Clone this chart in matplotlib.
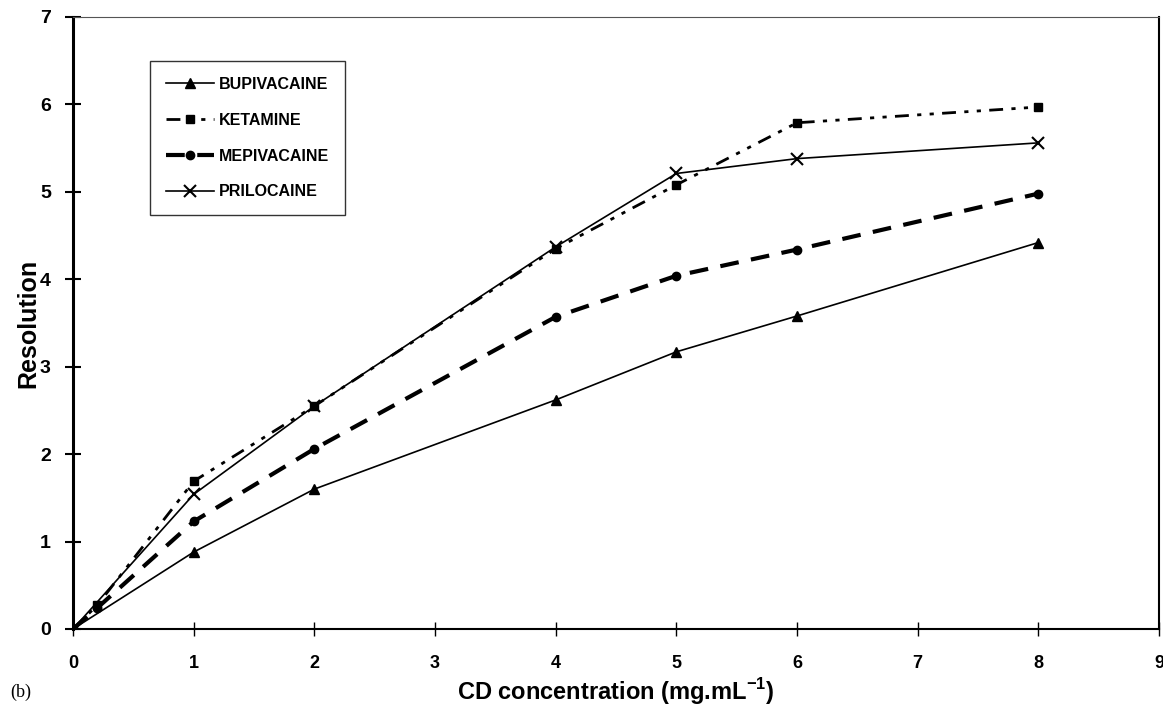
import matplotlib
matplotlib.use("Agg")
import matplotlib.pyplot as plt

# Data
x_bup = [0, 1, 2, 4, 5, 6, 8]
y_bup = [0, 0.88, 1.60, 2.62, 3.17, 3.58, 4.42]

x_ket = [0, 0.2, 1, 2, 4, 5, 6, 8]
y_ket = [0, 0.27, 1.69, 2.55, 4.35, 5.08, 5.79, 5.97]

x_mep = [0, 0.2, 1, 2, 4, 5, 6, 8]
y_mep = [0, 0.24, 1.23, 2.06, 3.57, 4.04, 4.34, 4.98]

x_pri = [0, 1, 2, 4, 5, 6, 8]
y_pri = [0, 1.54, 2.55, 4.37, 5.21, 5.38, 5.56]

labels = ["BUPIVACAINE", "KETAMINE", "MEPIVACAINE", "PRILOCAINE"]
xticks = list(range(0, 10))
yticks = list(range(0, 8))

plt.rcParams['font.family'] = ['Liberation Sans', 'DejaVu Sans']
plt.rcParams['mathtext.fontset'] = 'custom'
plt.rcParams['mathtext.bf'] = 'Liberation Sans:bold'
plt.rcParams['mathtext.rm'] = 'Liberation Sans'

fig = plt.figure(figsize=(11.63, 7.19), dpi=100)
ax = fig.add_axes([0.0628, 0.1252, 0.9338, 0.8512])

ax.plot(x_bup, y_bup, color='black', lw=1.2, marker='^', ms=7, label=labels[0])
ax.plot(x_ket, y_ket, color='black', lw=2.0, dashes=(5, 3, 1.5, 3, 1.5, 3),
        marker='s', ms=5.5, label=labels[1])
ax.plot(x_mep, y_mep, color='black', lw=3.0, dashes=(4.5, 3),
        marker='o', ms=6, label=labels[2])
ax.plot(x_pri, y_pri, color='black', lw=1.2, marker='x', ms=8, mew=1.5, label=labels[3])

ax.set_xlim(0, 9)
ax.set_ylim(0, 7)
ax.set_xticks(xticks)
ax.set_yticks(yticks)
ax.set_xticklabels([str(t) for t in xticks], fontweight='bold', fontsize=13)
ax.set_yticklabels([str(t) for t in yticks], fontweight='bold', fontsize=14)
ax.tick_params(axis='x', direction='inout', length=10, width=1, pad=14)
ax.tick_params(axis='y', direction='inout', length=12, width=1.5, pad=10)

ax.spines['left'].set_linewidth(2.2)
ax.spines['bottom'].set_linewidth(1.5)
ax.spines['top'].set_linewidth(0.8)
ax.spines['top'].set_color('#555555')
ax.spines['right'].set_linewidth(1.5)

ax.set_ylabel("Resolution", fontsize=18, fontweight='bold', labelpad=0)
ax.set_xlabel(r"CD concentration (mg.mL$^{\mathbf{-1}}$)", fontsize=17, fontweight='bold', labelpad=3)

fig.text(0.009, 0.03, "(b)", fontsize=13, family='Liberation Serif')

leg = ax.legend(loc='upper left', bbox_to_anchor=(0.071, 0.928), frameon=True, fancybox=False,
                edgecolor='black', fontsize=11.5, handlelength=3.0, labelspacing=1.3,
                borderpad=1.0, handletextpad=0.3, borderaxespad=0)
leg.get_frame().set_linewidth(1.0)
for t in leg.get_texts():
    t.set_fontweight('bold')

fig.savefig("out.png", dpi=100)
